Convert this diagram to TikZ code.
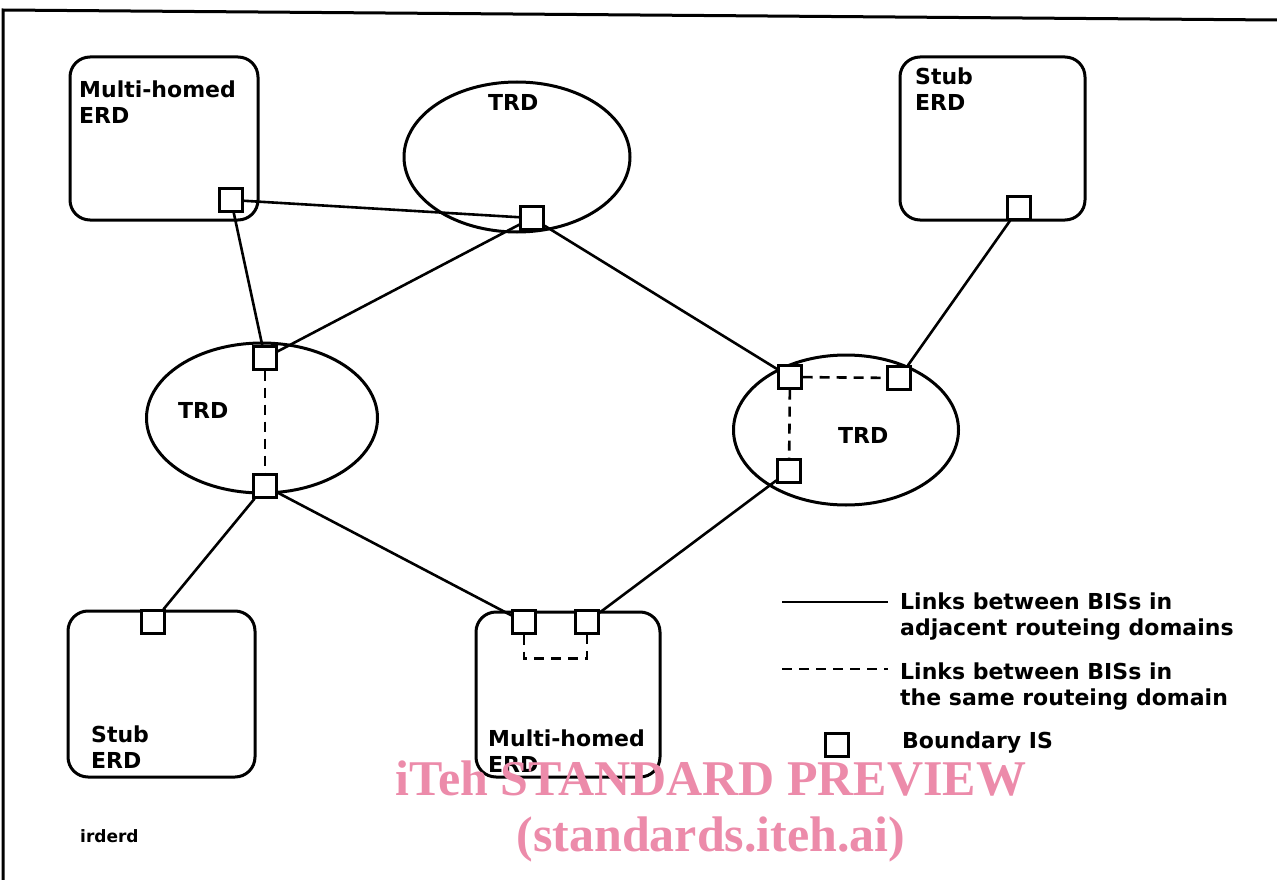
\documentclass[tikz,border=0pt]{standalone}
\usepackage{fontspec}
\setmainfont{DejaVu Sans}
\newfontfamily\wmfont{Liberation Serif}
\usetikzlibrary{shapes.geometric}
\definecolor{wmpink}{RGB}{236,139,170}
\tikzset{
  erdbox/.style={draw, line width=3pt, rounded corners=20pt},
  trd/.style={draw, ellipse, line width=3pt, inner sep=0pt},
  bis/.style={draw, line width=2.4pt, fill=white, minimum size=23pt, inner sep=0pt},
  lnk/.style={line width=2.6pt},
  slnk/.style={line width=2.6pt, dashed, dash pattern=on 10pt off 7pt},
  lbl/.style={anchor=base west, inner sep=0pt, font=\fontsize{22}{26}\selectfont\bfseries, align=left},
  wm/.style={text=wmpink, font=\wmfont\bfseries\fontsize{50}{56}\selectfont, inner sep=0pt, anchor=base}
}
\begin{document}
\begin{tikzpicture}[x=1pt,y=-1pt]
\useasboundingbox (0,0) rectangle (1277,880);
% frame
\coordinate (ftl) at (3,10);
\coordinate (ftr) at (1277,20);
\coordinate (fbl) at (3,880);
\draw[line width=3pt] (fbl) -- (ftl) -- (ftr);

% domains
\draw[erdbox] (70,57) rectangle (258,220);
\draw[erdbox] (900,57) rectangle (1085,220);
\draw[erdbox] (68,611) rectangle (255,777);
\draw[erdbox] (476,612) rectangle (660,777);
\node[trd, minimum width=226pt, minimum height=150pt] (trdT) at (517,157) {};
\node[trd, minimum width=231pt, minimum height=150pt] (trdL) at (262,418) {};
\node[trd, minimum width=225pt, minimum height=150pt] (trdR) at (846,430) {};

% labels (anchor at the baseline of the last line)
\node[lbl] (tMH1) at (79,124) {Multi-homed\\ERD};
\node[lbl] (tST1) at (915,111) {Stub\\ERD};
\node[lbl] (tTRDT) at (488,111) {TRD};
\node[lbl] (tTRDL) at (178,418) {TRD};
\node[lbl] (tTRDR) at (838,443) {TRD};
\node[lbl] (tST2) at (91,768) {Stub\\ERD};
\node[lbl] (tMH2) at (488,772) {Multi-homed\\ERD};

% boundary ISs
\node[bis] (b1) at (231,200) {};
\node[bis] (b2) at (532,218) {};
\node[bis] (b3) at (1019,208) {};
\node[bis] (b4) at (265,358) {};
\node[bis] (b5) at (265,486) {};
\node[bis] (b6) at (790,377) {};
\node[bis] (b7) at (899,378) {};
\node[bis] (b8) at (789,471) {};
\node[bis] (b9) at (153,622) {};
\node[bis] (b10) at (524,622) {};
\node[bis] (b11) at (587,622) {};

% solid links
\draw[lnk] (b1) -- (b2);
\draw[lnk] (b1) -- (b4);
\draw[lnk] (b2) -- (b4);
\draw[lnk] (b2) -- (b6);
\draw[lnk] (b3) -- (b7);
\draw[lnk] (b5) -- (b9);
\draw[lnk] (b5) -- (b10);
\draw[lnk] (b8) -- (b11);

% dashed links
\draw[slnk] (b4) -- (b5);
\draw[slnk] (b6) -- (b7);
\draw[slnk] (b6) -- (b8);
\draw[slnk] (b10.south) -- ++(0,24) -| (b11.south);

% legend
\coordinate (l1a) at (782,602);
\coordinate (l1b) at (888,602);
\draw[lnk] (l1a) -- (l1b);
\node[lbl] (lt1) at (900,635) {Links between BISs in\\adjacent routeing domains};
\coordinate (l2a) at (782,669);
\coordinate (l2b) at (888,669);
\draw[slnk] (l2a) -- (l2b);
\node[lbl] (lt2) at (900,705) {Links between BISs in\\the same routeing domain};
\node[bis] (lb) at (837,745) {};
\node[lbl] (lt3) at (902,748) {Boundary IS};

\node[lbl, font=\fontsize{17}{20}\selectfont\bfseries] (fig) at (80,842) {irderd};

% watermark
\node[wm] (wm1) at (711,795) {iTeh STANDARD PREVIEW};
\node[wm] (wm2) at (711,851) {(standards.iteh.ai)};
\end{tikzpicture}
\end{document}
